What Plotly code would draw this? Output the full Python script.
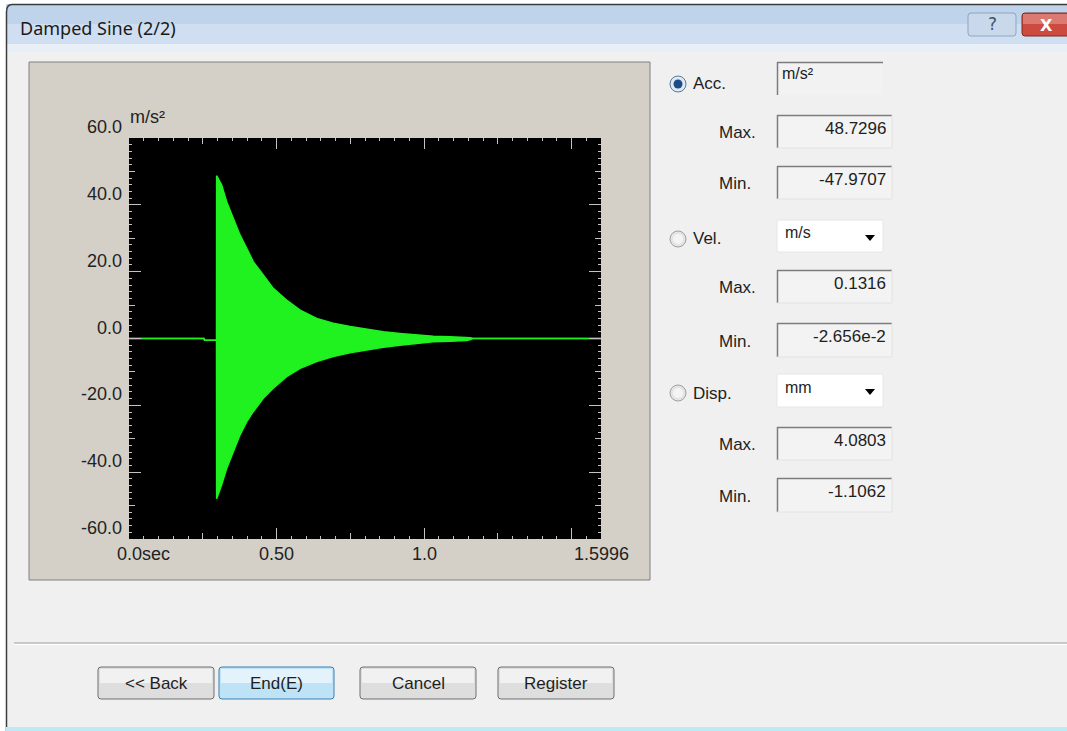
import plotly.graph_objects as go

W, H = 1067, 731

# ---------------- data ----------------
t_env = [0.0, 0.254, 0.256, 0.2965, 0.297, 0.314, 0.331, 0.354, 0.376, 0.399,
         0.421, 0.455, 0.489, 0.534, 0.580, 0.636, 0.692, 0.749, 0.806, 0.862,
         0.918, 0.975, 1.031, 1.087, 1.144, 1.158, 1.165, 1.5996]
upper = [0, 0, -0.5, -0.5, 48.73, 45.9, 40.9, 36.0, 31.0, 27.0,
         23.0, 19.0, 15.0, 11.5, 8.5, 6.0, 4.6, 3.6, 2.8, 2.0,
         1.5, 1.0, 0.7, 0.5, 0.35, 0.2, 0, 0]
lower = [0, 0, -0.5, -0.5, -47.97, -43.8, -38.9, -33.9, -28.9, -24.9,
         -21.9, -17.9, -14.9, -11.4, -8.9, -6.9, -5.4, -4.3, -3.4, -2.6,
         -2.0, -1.4, -1.0, -0.8, -0.6, -0.3, 0, 0]

y_tick_vals = [60, 40, 20, 0, -20, -40, -60]
y_tick_text = ["60.0", "40.0", "20.0", "0.0", "-20.0", "-40.0", "-60.0"]
x_tick_vals = [0.0, 0.5, 1.0, 1.5996]
x_tick_text = ["0.0", "0.50", "1.0", "1.5996"]
x_range = [0, 1.5996]
y_range = [-60, 60]

title_text = "Damped Sine (2/2)"
unit_acc = "m/s²"
stats = [  # (radio label, unit, max, min)
    ("Acc.", "m/s²", "48.7296", "-47.9707"),
    ("Vel.", "m/s", "0.1316", "-2.656e-2"),
    ("Disp.", "mm", "4.0803", "-1.1062"),
]
buttons = ["<< Back", "End(E)", "Cancel", "Register"]

# ---------------- helpers ----------------
def X(px):
    return px / W


def Y(py):
    return 1 - py / H


shapes = []
annotations = []


def rect(x0, y0, x1, y1, fill, line=None, lw=1, layer="below"):
    shapes.append(dict(type="rect", xref="paper", yref="paper",
                       x0=X(x0), x1=X(x1), y0=Y(y1), y1=Y(y0),
                       fillcolor=fill, layer=layer,
                       line=dict(color=line if line else "rgba(0,0,0,0)", width=lw if line else 0)))


def hline(x0, x1, y, color, lw=1):
    shapes.append(dict(type="line", xref="paper", yref="paper",
                       x0=X(x0), x1=X(x1), y0=Y(y), y1=Y(y),
                       line=dict(color=color, width=lw), layer="below"))


def vline(x, y0, y1, color, lw=1):
    shapes.append(dict(type="line", xref="paper", yref="paper",
                       x0=X(x), x1=X(x), y0=Y(y0), y1=Y(y1),
                       line=dict(color=color, width=lw), layer="below"))


def circle(cx, cy, r, fill, line=None, lw=1):
    shapes.append(dict(type="circle", xref="paper", yref="paper",
                       x0=X(cx - r), x1=X(cx + r), y0=Y(cy + r), y1=Y(cy - r),
                       fillcolor=fill, layer="below",
                       line=dict(color=line if line else "rgba(0,0,0,0)", width=lw if line else 0)))


def rrect(x0, y0, x1, y1, r, fill, line, lw=1):
    def p(x, y):
        return f"{X(x):.6f},{Y(y):.6f}"
    path = (f"M{p(x0 + r, y0)} L{p(x1 - r, y0)} Q{p(x1, y0)} {p(x1, y0 + r)} "
            f"L{p(x1, y1 - r)} Q{p(x1, y1)} {p(x1 - r, y1)} L{p(x0 + r, y1)} "
            f"Q{p(x0, y1)} {p(x0, y1 - r)} L{p(x0, y0 + r)} Q{p(x0, y0)} {p(x0 + r, y0)} Z")
    shapes.append(dict(type="path", xref="paper", yref="paper", path=path,
                       fillcolor=fill, layer="below", line=dict(color=line, width=lw)))


def text(s, x, y, size=17, xanchor="left", color="#1e1e1e", family="Liberation Sans, Arial, sans-serif",
         yanchor="middle"):
    annotations.append(dict(text=s, x=X(x), y=Y(y), xref="paper", yref="paper",
                            xanchor=xanchor, yanchor=yanchor, showarrow=False,
                            font=dict(size=size, color=color, family=family)))


# ---------------- window chrome ----------------
rect(0, 0, W, 4, "#ffffff")
rect(0, 0, 6, H, "#ffffff")
rect(6, 4, W, 24, "#bfd3ea")
rect(6, 24, W, 44, "#cfdef0")
rect(6, 44, W, 52, "#e9eff6")
hline(12, W, 4.5, "#3c3c3c", 1.5)
vline(6.5, 12, H, "#3c3c3c", 1.5)
shapes.append(dict(type="path", xref="paper", yref="paper",
                   path=f"M{X(6.5)},{Y(12)} Q{X(6.5)},{Y(4.5)} {X(12)},{Y(4.5)}",
                   line=dict(color="#3c3c3c", width=1.5), layer="below"))
text(title_text, 18, 28, size=18, family="Noto Sans, Open Sans, sans-serif", color="#1a1a1a")

# help and close buttons
rrect(968, 13, 1016, 36, 3, "#c9d9eb", "#8ea5bf")
text("?", 992, 24, size=17, xanchor="center", color="#3d5570", family="DejaVu Sans, sans-serif")
rrect(1022, 13, 1075, 36, 3, "#cc4a40", "#7f2a22")
rect(1023, 14, W, 24, "#db7a70")
text("<b>X</b>", 1046, 25, size=16, xanchor="center", color="#ffffff", family="DejaVu Sans, sans-serif")

# bottom edge
rect(6, 727, W, H, "#bfe9f7")

# separator
hline(14, W, 643, "#a0a0a0", 1)
hline(14, W, 644.5, "#ffffff", 1)

# ---------------- chart panel ----------------
rect(29, 62, 650, 580, "#d4d0c8", "#808080", 1)
rect(129, 138, 601, 539, "#000000")

# ---------------- right panel ----------------
radio_y = [84, 239, 393]
unit_box_y = [(62, 95), (220, 252), (374, 407)]
max_box_y = [(115, 148), (270, 303), (427, 460)]
min_box_y = [(166, 199), (323, 357), (478, 512)]


def value_box(y0, y1):
    rect(777, y0, 892, y1, "#f3f3f3")
    hline(777, 892, y0 + 0.5, "#7c7c7c", 1.5)
    vline(777.5, y0, y1, "#7c7c7c", 1.5)
    hline(777, 892, y1, "#e2e2e2", 1)
    vline(892, y0, y1, "#e2e2e2", 1)


for i, (lab, unit, vmax, vmin) in enumerate(stats):
    ry = radio_y[i]
    if i == 0:
        circle(678, ry, 8, "#dfe9f3", "#5b7895", 1)
        circle(678, ry, 4.5, "#1d4d86")
    else:
        circle(678, ry, 8, "#e4e4e4", "#a0a0a0", 1)
        circle(678, ry, 5, "#f4f4f4")
    text(lab, 691, ry, size=17)

    u0, u1 = unit_box_y[i]
    if i == 0:
        rect(777, u0, 883, u1, "#f2f2f2")
        hline(777, 883, u0 + 0.5, "#7c7c7c", 1.5)
        vline(777.5, u0, u1, "#7c7c7c", 1.5)
        text(unit, 780, u0 + 12, size=16)
    else:
        rect(777, u0, 883, u1, "#ffffff", "#e6e6e6", 1)
        text(unit, 783, u0 + 13, size=16)
        shapes.append(dict(type="path", xref="paper", yref="paper",
                           path=f"M{X(865)},{Y(u0 + 15)} L{X(875)},{Y(u0 + 15)} L{X(870)},{Y(u0 + 21)} Z",
                           fillcolor="#000000", line=dict(width=0), layer="below"))

    a0, a1 = max_box_y[i]
    value_box(a0, a1)
    text("Max.", 717, (a0 + a1) / 2 + 1, size=17)
    text(vmax, 888, a0 + 13, size=17, xanchor="right")

    b0, b1 = min_box_y[i]
    value_box(b0, b1)
    text("Min.", 717, (b0 + b1) / 2 + 1, size=17)
    text(vmin, 888, b0 + 13, size=17, xanchor="right")

# ---------------- buttons ----------------
btn_x = [(98, 214), (219, 334), (360, 476), (498, 614)]
for i, (lab, (bx0, bx1)) in enumerate(zip(buttons, btn_x)):
    if i == 1:
        rrect(bx0, 667, bx1, 699, 3, "#bfe3f6", "#3c7fb1", 1)
        rect(bx0 + 2, 669, bx1 - 2, 683, "#e3f2fb")
    else:
        rrect(bx0, 667, bx1, 699, 3, "#dedede", "#707070", 1)
        rect(bx0 + 2, 669, bx1 - 2, 683, "#f1f1f1")
    text(lab, (bx0 + bx1) / 2, 683, size=17, xanchor="center")

# ---------------- chart ----------------
green = "#1ff21f"
fig = go.Figure()
fig.add_trace(go.Scatter(x=t_env, y=lower, mode="lines",
                         line=dict(color=green, width=1.5), hoverinfo="skip", showlegend=False))
fig.add_trace(go.Scatter(x=t_env, y=upper, mode="lines", fill="tonexty", fillcolor=green,
                         line=dict(color=green, width=1.5), hoverinfo="skip", showlegend=False))
fig.add_trace(go.Scatter(x=[None], y=[None], xaxis="x2", yaxis="y2",
                         hoverinfo="skip", showlegend=False))

chart_font = dict(family="Liberation Sans, Arial, sans-serif", size=18, color="#222222")
for v, s in zip(y_tick_vals, y_tick_text):
    annotations.append(dict(text=s, x=X(124), y=v, xref="paper", yref="y",
                            xanchor="right", yanchor="middle", yshift=11,
                            showarrow=False, font=chart_font))
for v, s in zip(x_tick_vals, x_tick_text):
    annotations.append(dict(text=s, x=v, y=Y(554), xref="x", yref="paper",
                            xanchor="center", yanchor="middle",
                            showarrow=False, font=chart_font))
annotations.append(dict(text="sec", x=x_tick_vals[0], y=Y(554), xref="x", yref="paper",
                        xanchor="left", yanchor="middle", xshift=11,
                        showarrow=False, font=chart_font))
annotations.append(dict(text=unit_acc, x=X(128), y=Y(117), xref="paper", yref="paper",
                        xanchor="left", yanchor="middle", showarrow=False, font=chart_font))

tick_col = "#c4c4c4"
xdom = [X(129), X(601)]
ydom = [Y(539), Y(138)]
common = dict(showgrid=False, zeroline=False, showline=False, showticklabels=False,
              ticks="inside", mirror="ticks", tickcolor=tick_col, tickwidth=1, fixedrange=True)

fig.update_layout(
    width=W, height=H,
    margin=dict(l=0, r=0, t=0, b=0),
    paper_bgcolor="#f0f0f0",
    plot_bgcolor="#000000",
    showlegend=False,
    xaxis=dict(domain=xdom, range=x_range, anchor="y", tick0=0, dtick=0.5, ticklen=11,
               minor=dict(ticks="inside", dtick=0.05, ticklen=3, tickcolor=tick_col), **common),
    yaxis=dict(domain=ydom, range=y_range, anchor="x", tick0=0, dtick=20, ticklen=12,
               minor=dict(ticks="inside", dtick=2, ticklen=3, tickcolor=tick_col), **common),
    xaxis2=dict(domain=xdom, range=x_range, overlaying="x", anchor="y2", tick0=0, dtick=0.25,
                ticklen=6, **common),
    yaxis2=dict(domain=ydom, range=y_range, overlaying="y", anchor="x2", tick0=0, dtick=10,
                ticklen=6, **common),
    shapes=shapes,
    annotations=annotations,
)

fig.write_html("out.html", config={"displayModeBar": False, "staticPlot": True},
               post_script="document.body.style.margin='0px';document.body.style.overflow='hidden';")
